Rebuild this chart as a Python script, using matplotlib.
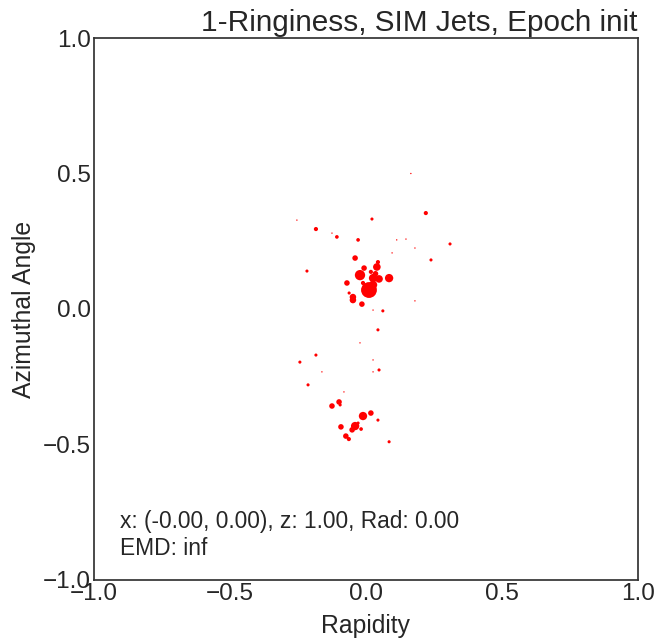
import numpy as np
import matplotlib
matplotlib.use("Agg")
from matplotlib import pyplot as plt

# particle positions (rapidity, azimuth) and sizes
rap = [0.165, 0.22, -0.254, 0.022, -0.184, -0.125, -0.107, -0.029, 0.113, 0.147,
       0.309, 0.18, 0.096, -0.04, 0.239, 0.044, -0.217, 0.04, -0.007, -0.022,
       0.018, 0.026, 0.085, 0.048, -0.07, -0.011, 0.011, 0.026, -0.062, -0.048,
       -0.048, -0.015, 0.026, 0.062, 0.18, 0.035,
       0.044, -0.022, -0.184, -0.243, 0.026, -0.162, 0.026, 0.048, -0.213, -0.081,
       -0.099, -0.095, -0.125, -0.011, 0.018, 0.044, -0.092, -0.04, -0.051, -0.029,
       -0.018, -0.074, -0.063, 0.085]
phi = [0.50, 0.354, 0.328, 0.332, 0.295, 0.28, 0.266, 0.255, 0.255, 0.258,
       0.24, 0.225, 0.207, 0.188, 0.181, 0.173, 0.14, 0.155, 0.151, 0.125,
       0.137, 0.114, 0.114, 0.111, 0.096, 0.096, 0.07, 0.089, 0.059, 0.044,
       0.033, 0.018, -0.004, -0.007, 0.03, 0.13,
       -0.077, -0.125, -0.17, -0.196, -0.188, -0.232, -0.232, -0.225, -0.28, -0.306,
       -0.343, -0.354, -0.358, -0.395, -0.384, -0.41, -0.435, -0.432, -0.446, -0.421,
       -0.443, -0.469, -0.48, -0.49]
size = [1, 9, 1, 5, 9, 1, 7, 7, 1, 1,
        5, 1, 1, 16, 5, 9, 5, 30, 16, 55,
        9, 36, 36, 30, 16, 9, 130, 36, 5, 22,
        22, 16, 1, 5, 1, 16,
        5, 1, 5, 5, 1, 1, 1, 5, 5, 1,
        16, 5, 16, 36, 16, 5, 16, 36, 16, 5,
        7, 16, 9, 5]

fig = plt.figure(figsize=(6.54, 6.41), dpi=100)
plt.rcParams['font.family'] = ['Liberation Sans', 'DejaVu Sans']
ax = fig.add_axes([0.1437, 0.0952, 0.8318, 0.8455])
ax.scatter(rap, phi, s=size, c='red', linewidths=0)

ax.set_xlim(-1, 1)
ax.set_ylim(-1, 1)
ax.set_xticks([-1.0, -0.5, 0.0, 0.5, 1.0])
ax.set_yticks([-1.0, -0.5, 0.0, 0.5, 1.0])
ax.tick_params(length=0, pad=2, labelsize=17.5, colors='#262626')
for sp in ax.spines.values():
    sp.set_color('#333333')
    sp.set_linewidth(1.25)

ax.set_xlabel("Rapidity", fontsize=17.8, color='#262626', labelpad=7)
ax.set_ylabel("Azimuthal Angle", fontsize=17.8, color='#262626', labelpad=5)
ax.set_title("1-Ringiness, SIM Jets, Epoch init", loc='right', fontsize=21.4,
             color='#262626', pad=5)
ax.text(0.048, 0.037, "x: (-0.00, 0.00), z: 1.00, Rad: 0.00\nEMD: inf",
        transform=ax.transAxes, fontsize=16.4, color='#262626', va='bottom',
        linespacing=1.2)

fig.savefig("out.png", dpi=100)
